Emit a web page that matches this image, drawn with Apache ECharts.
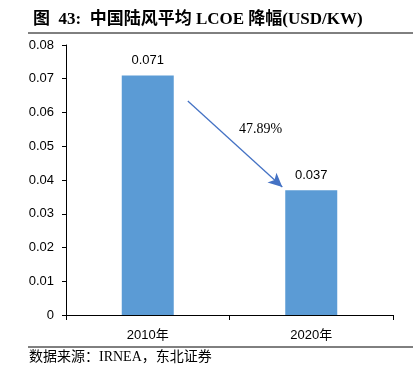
<!DOCTYPE html>
<html><head><meta charset="utf-8">
<script src="https://cdn.jsdelivr.net/npm/echarts@6/dist/echarts.min.js"></script>
<style>html,body{margin:0;padding:0;background:#fff}#c{width:416px;height:377px}</style>
</head><body><div id="c"></div>
<script>
const categories = ['2010年', '2020年'];
const values = [0.071, 0.037];
const yTicks = [0, 0.01, 0.02, 0.03, 0.04, 0.05, 0.06, 0.07, 0.08];
const changeLabel = '47.89%';
const arrowStartValue = 0.0634;
const arrowEndValue = 0.0379;

const chart = echarts.init(document.getElementById('c'));
const sans = '"Liberation Sans", "Noto Sans CJK SC", sans-serif';
const option = {
  animation: false,
  title: {
    text: '图  43:  中国陆风平均 LCOE 降幅(USD/KW)',
    left: 28, top: 6,
    textStyle: { fontFamily: '"Liberation Serif", "Noto Sans CJK SC", serif', fontWeight: 'bold', fontSize: 17, color: '#000' }
  },
  grid: { left: 66, right: 23, top: 45, bottom: 62 },
  xAxis: {
    type: 'category', data: categories,
    axisLine: { lineStyle: { color: '#000', width: 1 } },
    axisTick: { show: true, length: 5, lineStyle: { color: '#000' } },
    axisLabel: { margin: 14, fontFamily: sans, fontSize: 13, color: '#000' }
  },
  yAxis: {
    type: 'value', min: yTicks[0], max: yTicks[yTicks.length - 1], interval: 0.01,
    splitLine: { show: false },
    axisLine: { show: true, lineStyle: { color: '#000', width: 1 } },
    axisTick: { show: true, length: 4, lineStyle: { color: '#000' } },
    axisLabel: { margin: 12, fontFamily: sans, fontSize: 13, color: '#000',
      formatter: v => v === 0 ? '0' : v.toFixed(2) }
  },
  series: [{
    type: 'bar', data: values, barWidth: 52,
    itemStyle: { color: '#5B9BD5' },
    label: { show: true, position: 'top', distance: 8, fontFamily: sans, fontSize: 13, color: '#000',
      formatter: p => p.value.toFixed(3) }
  }],
  graphic: [
    { type: 'line', shape: { x1: 28, y1: 33, x2: 413, y2: 33 }, style: { stroke: '#000', lineWidth: 1 } },
    { type: 'line', shape: { x1: 28, y1: 347, x2: 413, y2: 347 }, style: { stroke: '#000', lineWidth: 1 } },
    { type: 'text', left: 29, top: 350, style: { text: '数据来源：IRNEA，东北证券', font: '14px "Liberation Serif", "Noto Sans CJK SC", serif', fill: '#000' } }
  ]
};
chart.setOption(option);

const p0 = chart.convertToPixel({ gridIndex: 0 }, [0, arrowStartValue]);
const p1 = chart.convertToPixel({ gridIndex: 0 }, [1, arrowEndValue]);
const catW = p1[0] - p0[0];
const sx = p0[0] + catW * 0.245, ex = p1[0] - catW * 0.177;
chart.setOption({
  series: [{
    markLine: {
      silent: true, symbol: ['none', 'arrow'], symbolSize: [10, 14],
      label: { show: false },
      lineStyle: { color: '#4472C4', width: 1.3, type: 'solid' },
      data: [[{ x: sx, y: p0[1] }, { x: ex, y: p1[1] }]]
    }
  }],
  graphic: option.graphic.concat([
    { type: 'text', x: (sx + ex) / 2 + 4, y: (p0[1] + p1[1]) / 2 - 22,
      style: { text: changeLabel, font: '14px "Liberation Serif", serif', fill: '#000' } }
  ])
});
</script></body></html>
